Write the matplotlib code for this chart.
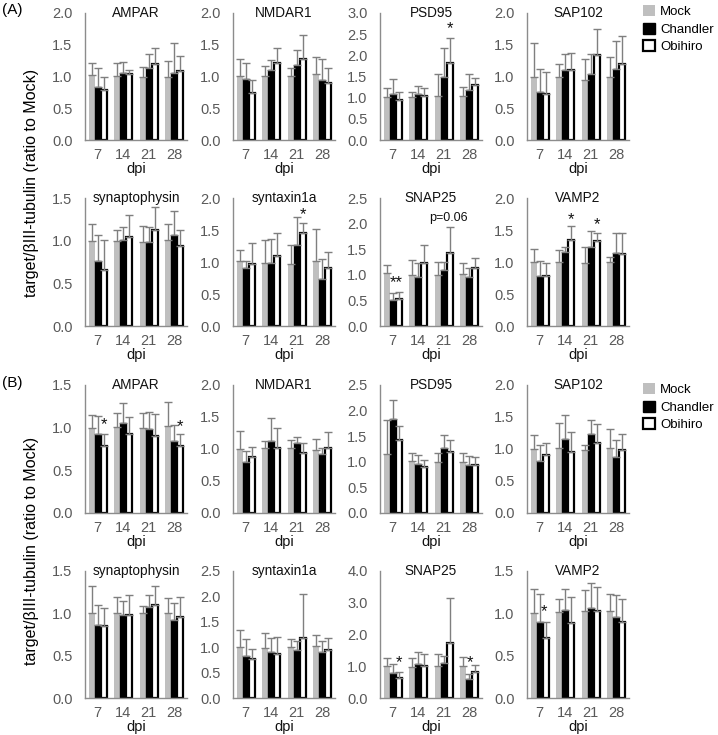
import numpy as np
import matplotlib
matplotlib.use("Agg")
import matplotlib.pyplot as plt

plt.rcParams['font.family'] = ['Liberation Sans', 'DejaVu Sans']

dpi_labels = ["7", "14", "21", "28"]
series = ["Mock", "Chandler", "Obihiro"]

# ---- Section A ----
titles_A = ["AMPAR", "NMDAR1", "PSD95", "SAP102",
            "synaptophysin", "syntaxin1a", "SNAP25", "VAMP2"]
ymax_A = [2.0, 2.0, 3.0, 2.0, 1.5, 2.0, 2.5, 2.0]

# values per panel: rows = Mock, Chandler, Obihiro ; cols = 7,14,21,28 dpi
A_AMPAR_mean = [[1.03, 1.01, 0.99, 1.00], [0.84, 1.05, 1.14, 1.05], [0.79, 1.04, 1.19, 1.09]]
A_AMPAR_err  = [[1.21, 1.21, 1.15, 1.24], [1.13, 1.23, 1.36, 1.52], [1.00, 1.11, 1.45, 1.32]]
A_NMDAR1_mean = [[1.01, 1.01, 1.01, 1.04], [0.96, 1.11, 1.18, 0.94], [0.74, 1.22, 1.28, 0.90]]
A_NMDAR1_err  = [[1.27, 1.16, 1.13, 1.30], [1.22, 1.26, 1.42, 1.27], [0.95, 1.45, 1.66, 1.14]]
A_PSD95_mean = [[1.02, 1.01, 1.03, 1.03], [1.09, 1.09, 1.49, 1.18], [0.95, 1.04, 1.82, 1.29]]
A_PSD95_err  = [[1.24, 1.13, 1.57, 1.26], [1.43, 1.27, 2.18, 1.57], [1.13, 1.23, 2.40, 1.46]]
A_SAP102_mean = [[1.00, 0.99, 0.95, 1.00], [0.76, 1.10, 1.04, 1.12], [0.72, 1.11, 1.34, 1.20]]
A_SAP102_err  = [[1.53, 1.20, 1.28, 1.31], [1.12, 1.35, 1.36, 1.56], [1.07, 1.37, 1.75, 1.64]]
A_SYP_mean = [[1.00, 1.00, 0.98, 1.01], [0.76, 1.01, 0.98, 1.07], [0.66, 1.04, 1.13, 0.94]]
A_SYP_err  = [[1.20, 1.12, 1.17, 1.20], [1.07, 1.16, 1.16, 1.35], [1.01, 1.30, 1.40, 1.13]]
A_STX_mean = [[1.01, 0.98, 0.97, 1.02], [0.90, 0.98, 1.27, 0.73], [0.97, 1.10, 1.46, 0.90]]
A_STX_err  = [[1.18, 1.34, 1.26, 1.51], [1.02, 1.36, 1.71, 1.04], [1.29, 1.46, 1.61, 1.16]]
A_SNAP25_mean = [[1.03, 0.99, 0.99, 1.02], [0.50, 0.95, 1.10, 0.95], [0.52, 1.23, 1.42, 1.13]]
A_SNAP25_err  = [[1.20, 1.28, 1.25, 1.24], [0.64, 1.24, 1.25, 1.14], [0.67, 1.58, 1.93, 1.33]]
A_VAMP2_mean = [[1.00, 1.00, 0.98, 1.00], [0.78, 1.15, 1.24, 1.14], [0.78, 1.34, 1.33, 1.12]]
A_VAMP2_err  = [[1.20, 1.19, 1.23, 1.08], [1.02, 1.23, 1.48, 1.45], [0.98, 1.56, 1.45, 1.45]]

# ---- Section B ----
titles_B = ["AMPAR", "NMDAR1", "PSD95", "SAP102",
            "synaptophysin", "syntaxin1a", "SNAP25", "VAMP2"]
ymax_B = [1.5, 2.0, 2.5, 2.0, 1.5, 2.5, 4.0, 1.5]

B_AMPAR_mean = [[1.00, 1.01, 1.00, 1.02], [0.92, 1.06, 0.98, 0.84], [0.78, 0.92, 0.90, 0.78]]
B_AMPAR_err  = [[1.15, 1.17, 1.17, 1.30], [1.14, 1.29, 1.18, 1.03], [0.93, 1.12, 1.16, 0.92]]
B_NMDAR1_mean = [[1.00, 1.01, 1.01, 0.99], [0.80, 1.13, 1.10, 0.92], [0.87, 1.02, 0.93, 1.01]]
B_NMDAR1_err  = [[1.28, 1.13, 1.14, 1.16], [0.97, 1.48, 1.19, 1.01], [1.03, 1.33, 1.09, 1.26]]
B_PSD95_mean = [[1.15, 1.01, 1.00, 0.99], [1.83, 0.96, 1.27, 0.94], [1.43, 0.90, 1.19, 0.94]]
B_PSD95_err  = [[1.82, 1.17, 1.17, 1.17], [2.21, 1.13, 1.53, 1.12], [1.70, 1.04, 1.43, 1.10]]
B_SAP102_mean = [[1.00, 1.01, 0.99, 1.01], [0.81, 1.15, 1.24, 0.88], [0.90, 0.95, 1.10, 0.99]]
B_SAP102_err  = [[1.22, 1.41, 1.07, 1.32], [1.07, 1.53, 1.46, 1.14], [1.09, 1.27, 1.39, 1.24]]
B_SYP_mean = [[1.00, 1.00, 1.00, 1.00], [0.86, 0.98, 1.08, 0.92], [0.85, 0.98, 1.10, 0.96]]
B_SYP_err  = [[1.32, 1.19, 1.09, 1.18], [1.10, 1.14, 1.22, 1.12], [1.06, 1.22, 1.32, 1.19]]
B_STX_mean = [[1.00, 0.98, 1.00, 1.02], [0.83, 0.91, 0.95, 0.90], [0.76, 0.86, 1.19, 0.94]]
B_STX_err  = [[1.34, 1.28, 1.17, 1.24], [1.17, 1.18, 1.12, 1.12], [0.97, 1.21, 2.04, 1.18]]
B_SNAP25_mean = [[1.00, 0.99, 1.00, 1.01], [0.79, 1.06, 1.11, 0.59], [0.63, 1.00, 1.72, 0.81]]
B_SNAP25_err  = [[1.27, 1.26, 1.40, 1.28], [1.06, 1.45, 1.33, 0.76], [0.82, 1.39, 3.15, 1.03]]
B_VAMP2_mean = [[1.00, 1.01, 1.03, 1.03], [0.90, 1.04, 1.06, 0.96], [0.71, 0.88, 1.03, 0.90]]
B_VAMP2_err  = [[1.29, 1.17, 1.28, 1.23], [1.23, 1.29, 1.36, 1.22], [0.90, 1.19, 1.31, 1.17]]

means_A = [A_AMPAR_mean, A_NMDAR1_mean, A_PSD95_mean, A_SAP102_mean,
           A_SYP_mean, A_STX_mean, A_SNAP25_mean, A_VAMP2_mean]
errs_A = [A_AMPAR_err, A_NMDAR1_err, A_PSD95_err, A_SAP102_err,
          A_SYP_err, A_STX_err, A_SNAP25_err, A_VAMP2_err]
means_B = [B_AMPAR_mean, B_NMDAR1_mean, B_PSD95_mean, B_SAP102_mean,
           B_SYP_mean, B_STX_mean, B_SNAP25_mean, B_VAMP2_mean]
errs_B = [B_AMPAR_err, B_NMDAR1_err, B_PSD95_err, B_SAP102_err,
          B_SYP_err, B_STX_err, B_SNAP25_err, B_VAMP2_err]

# significance marks: (panel index, x in group units, y, text)
marks_A = [(2, 2.23, 2.62, "*"), (5, 2.23, 1.74, "*"), (6, 0.15, 0.84, "**"),
           (6, 2.2, 2.11, "p=0.06"), (7, 1.23, 1.66, "*"), (7, 2.23, 1.59, "*")]
marks_B = [(0, 0.25, 1.03, "*"), (0, 3.22, 1.01, "*"), (6, 0.25, 1.10, "*"),
           (6, 3.02, 1.10, "*"), (7, 0.17, 1.02, "*")]

W, H = 718, 735
fig = plt.figure(figsize=(W / 100, H / 100), dpi=100)

col_left = [85, 233, 380, 527]
ax_w = 102
row_zero = [140, 326, 513, 698]
row_top = [13, 198, 385, 571]

colors = ["#BFBFBF", "#000000", "#FFFFFF"]
edges = ["#BFBFBF", "#000000", "#000000"]
lws = [0, 1.0, 1.6]
tick_col = "#595959"
spine_col = "#8C8C8C"
bw = 0.23


def draw_panel(ax, title, ymax, mean, err, marks):
    x = np.arange(4)
    handles = []
    for s in range(3):
        m = np.array(mean[s])
        e = np.array(err[s]) - m
        h = ax.bar(x + (s - 1) * bw, m, width=bw, color=colors[s], edgecolor=edges[s],
                   linewidth=lws[s], label=series[s],
                   yerr=[np.zeros(4), e],
                   error_kw=dict(ecolor="#7F7F7F", elinewidth=1.0, capsize=3.2, capthick=1.0))
        handles.append(h)
    ax.set_xlim(-0.5, 3.5)
    ax.set_ylim(0, ymax)
    step = 1.0 if ymax >= 4 else 0.5
    ax.set_yticks(np.arange(0, ymax + 1e-6, step))
    ax.set_yticklabels(["%.1f" % v for v in np.arange(0, ymax + 1e-6, step)])
    ax.set_xticks(x)
    ax.set_xticklabels(dpi_labels)
    ax.tick_params(axis="both", length=0, labelsize=10.5, colors=tick_col)
    ax.tick_params(axis="y", pad=9)
    ax.tick_params(axis="x", pad=6)
    ax.set_xlabel("dpi", fontsize=10.5, labelpad=0, color="#111111")
    for sp in ["top", "right"]:
        ax.spines[sp].set_visible(False)
    for sp in ["left", "bottom"]:
        ax.spines[sp].set_color(spine_col)
        ax.spines[sp].set_linewidth(1.0)
    ax.text(0.5, 1.0, title, transform=ax.transAxes, ha="center", va="center",
            fontsize=9.8, color="#111111")
    for (xm, ym, t) in marks:
        fs = 9 if t.startswith("p") else 12
        ax.text(xm, ym, t, ha="center", va="center", fontsize=fs, color="#111111")
    return handles


def section(titles, ymaxs, means, errs, marks, rows):
    hs = None
    for i in range(8):
        r = rows[i // 4]
        c = i % 4
        left = col_left[c] / W
        bottom = 1 - row_zero[r] / H
        height = (row_zero[r] - row_top[r]) / H
        ax = fig.add_axes([left, bottom, ax_w / W, height])
        pm = [(xm, ym, t) for (p, xm, ym, t) in marks if p == i]
        h = draw_panel(ax, titles[i], ymaxs[i], means[i], errs[i], pm)
        if hs is None:
            hs = h
    return hs


hA = section(titles_A, ymax_A, means_A, errs_A, marks_A, [0, 1])
hB = section(titles_B, ymax_B, means_B, errs_B, marks_B, [2, 3])

for hs, ytop in [(hA, 5), (hB, 383)]:
    fig.legend(hs, series, loc="upper left", bbox_to_anchor=(643 / W, 1 - ytop / H),
               frameon=False, fontsize=9.5, handlelength=0.9, handleheight=0.9,
               handletextpad=0.4, labelspacing=0.35, borderpad=0, borderaxespad=0)

fig.text(2 / W, 1 - 10 / H, "(A)", fontsize=11, ha="left", va="center")
fig.text(2 / W, 1 - 383 / H, "(B)", fontsize=11, ha="left", va="center")
ylab = "target/βIII-tubulin (ratio to Mock)"
fig.text(32 / W, 1 - 183 / H, ylab, rotation=90, fontsize=11.5, ha="center", va="center")
fig.text(32 / W, 1 - 551 / H, ylab, rotation=90, fontsize=11.5, ha="center", va="center")

fig.savefig("out.png", dpi=100)
